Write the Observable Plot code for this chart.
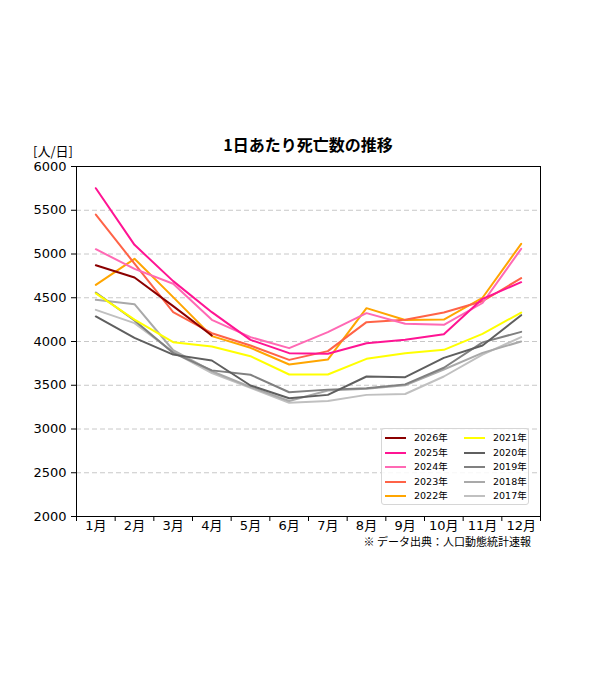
<!DOCTYPE html>
<html>
<head>
<meta charset="utf-8">
<script src="https://cdn.jsdelivr.net/npm/d3@7"></script>
<script src="https://cdn.jsdelivr.net/npm/@observablehq/plot@0.6"></script>
<style>
  html, body { margin: 0; padding: 0; background: #fff; }
  #wrap { position: relative; width: 600px; height: 675px; font-family: "DejaVu Sans", "Noto Sans CJK JP", sans-serif; color: #000; }
  #wrap svg { position: absolute; left: 0; top: 0; }
  #wrap svg g[aria-label="y-axis tick label"] text, #wrap svg g[aria-label="x-axis tick label"] text { font-size: 13px; }
  .abs { position: absolute; white-space: nowrap; }
  #title { left: 0; width: 616px; text-align: center; top: 132px; font-size: 16px; font-weight: bold; font-family: "Noto Sans CJK JP", sans-serif; }
  #ylab { left: 33px; top: 143px; font-size: 13px; line-height: 15px; font-family: "Noto Sans CJK JP", sans-serif; }
  #caption { right: 69px; top: 533px; font-size: 11px; font-family: "Noto Sans CJK JP", sans-serif; }
  #legend { left: 381px; top: 428px; width: 148px; height: 77px; border: 1px solid #d6d6d6; border-radius: 3px; background: rgba(255,255,255,0.85); box-sizing: border-box; }
  .li { position: absolute; height: 14px; font-size: 9.5px; line-height: 14px; }
  .li span.sw { position: absolute; top: 6px; height: 2px; width: 21px; }
  .li span.tx { position: absolute; left: 29px; top: 0; font-family: "DejaVu Sans", "Noto Sans CJK JP", sans-serif; }
</style>
</head>
<body>
<div id="wrap">
  <div id="title" class="abs">1日あたり死亡数の推移</div>
  <div id="ylab" class="abs">[人/日]</div>
  <div id="caption" class="abs">※ データ出典：人口動態統計速報</div>
</div>
<script>
const months = [1,2,3,4,5,6,7,8,9,10,11,12];
const monthLabels = ["1月","2月","3月","4月","5月","6月","7月","8月","9月","10月","11月","12月"];
const years = [2026, 2025, 2024, 2023, 2022, 2021, 2020, 2019, 2018, 2017];
const yearLabels = ["2026年","2025年","2024年","2023年","2022年","2021年","2020年","2019年","2018年","2017年"];
const colors = ["#8b0000","#ff1493","#ff69b4","#ff6347","#ffa500","#ffff00","#5f5f5f","#808080","#a9a9a9","#c0c0c0"];
const yTicks = [2000,2500,3000,3500,4000,4500,5000,5500,6000];

const v2026 = [4872, 4731, 4404, 4069];
const v2025 = [5752, 5105, 4690, 4335, 4019, 3867, 3859, 3981, 4019, 4084, 4488, 4678];
const v2024 = [5055, 4830, 4660, 4248, 4050, 3924, 4107, 4324, 4202, 4191, 4440, 5059];
const v2023 = [5451, 4890, 4335, 4095, 3954, 3790, 3890, 4221, 4248, 4331, 4460, 4724];
const v2022 = [4647, 4945, 4507, 4061, 3928, 3737, 3794, 4381, 4245, 4251, 4500, 5116];
const v2021 = [4550, 4250, 3992, 3943, 3832, 3623, 3623, 3802, 3867, 3905, 4088, 4331];
const v2020 = [4286, 4042, 3850, 3783, 3497, 3352, 3390, 3600, 3592, 3813, 3954, 4301];
const v2019 = [4560, 4240, 3870, 3670, 3620, 3420, 3450, 3465, 3510, 3700, 3990, 4110];
const v2018 = [4476, 4427, 3900, 3660, 3480, 3320, 3440, 3460, 3500, 3680, 3870, 4000];
const v2017 = [4362, 4210, 3880, 3640, 3470, 3300, 3320, 3390, 3400, 3600, 3850, 4050];

const seriesByYear = {2026: v2026, 2025: v2025, 2024: v2024, 2023: v2023, 2022: v2022,
  2021: v2021, 2020: v2020, 2019: v2019, 2018: v2018, 2017: v2017};

// draw oldest first so newer years are on top
const rows = [];
[...years].reverse().forEach(y => {
  seriesByYear[y].forEach((v, i) => rows.push({year: y, month: months[i], value: v}));
});

const boundaries = d3.range(0.5, 13, 1);
const gridTicks = yTicks.slice(1, -1);

const chart = Plot.plot({
  width: 600,
  height: 675,
  marginLeft: 76,
  marginRight: 60,
  marginTop: 166,
  marginBottom: 159,
  style: {fontFamily: '"DejaVu Sans", "Noto Sans CJK JP", sans-serif', fontSize: "13px", background: "transparent", color: "#000"},
  x: {domain: [0.5, 12.5]},
  y: {domain: [2000, 6000]},
  color: {type: "ordinal", domain: years, range: colors},
  marks: [
    Plot.gridY(gridTicks, {stroke: "#c8c8c8", strokeOpacity: 1, strokeWidth: 1, strokeDasharray: "5,3"}),
    Plot.line(rows, {x: "month", y: "value", z: "year", stroke: "year", strokeWidth: 2}),
    Plot.frame({stroke: "#000", strokeWidth: 1}),
    Plot.axisY(yTicks, {tickSize: 5, tickPadding: 5, label: null, fontSize: 13, stroke: "#000", tickFormat: d => String(d)}),
    Plot.axisX(boundaries, {tickSize: 5, tickFormat: () => "", label: null, stroke: "#000"}),
    Plot.axisX(months, {tickSize: 0, tickPadding: 4, tickFormat: (d) => monthLabels[months.indexOf(d)], label: null, fontSize: 13})
  ]
});
const wrap = document.getElementById("wrap");
wrap.insertBefore(chart, wrap.firstChild);

// legend
const legend = document.createElement("div");
legend.id = "legend";
legend.className = "abs";
years.forEach((y, i) => {
  const col = Math.floor(i / 5), row = i % 5;
  const item = document.createElement("div");
  item.className = "li";
  item.style.left = (col === 0 ? 3 : 82) + "px";
  item.style.top = (2 + row * 14.6) + "px";
  const sw = document.createElement("span");
  sw.className = "sw";
  sw.style.background = colors[i];
  const tx = document.createElement("span");
  tx.className = "tx";
  tx.textContent = yearLabels[i];
  item.appendChild(sw); item.appendChild(tx);
  legend.appendChild(item);
});
wrap.appendChild(legend);
</script>
</body>
</html>
